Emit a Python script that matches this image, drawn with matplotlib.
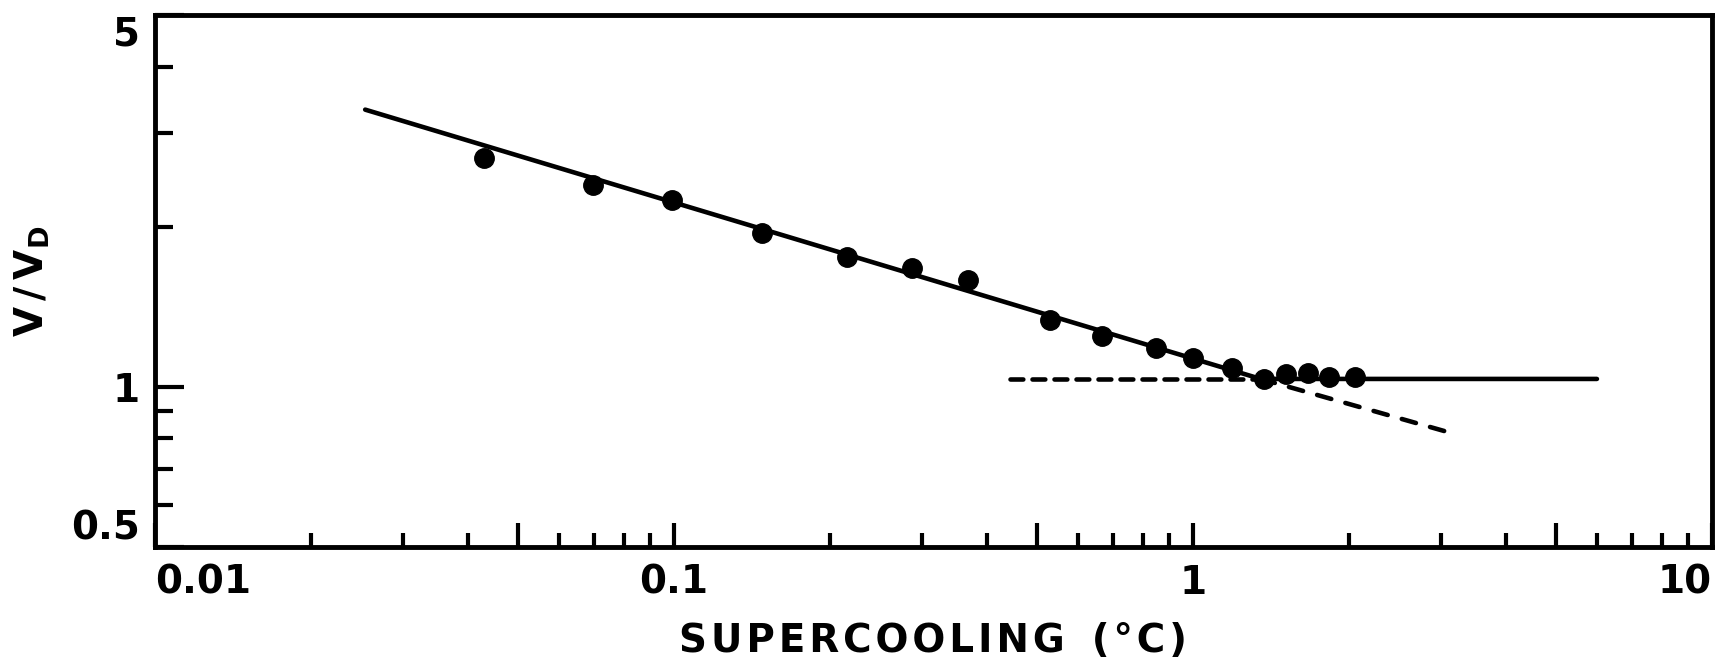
import matplotlib
matplotlib.use("Agg")
import matplotlib.pyplot as plt

plt.rcParams['font.family'] = ['DejaVu Sans']
plt.rcParams['font.weight'] = 'bold'
plt.rcParams['mathtext.fontset'] = 'dejavusans'

# measured points (supercooling in C, V/VD)
supercooling = [0.0431, 0.0699, 0.0990, 0.1476, 0.2152, 0.2875, 0.3685, 0.530, 0.667,
                0.849, 1.001, 1.187, 1.370, 1.509, 1.668, 1.831, 2.051]
v_ratio = [2.69, 2.40, 2.25, 1.95, 1.757, 1.67, 1.59, 1.336, 1.246,
           1.182, 1.132, 1.084, 1.033, 1.056, 1.063, 1.042, 1.042]

# fitted lines
fit_x = [0.0254, 1.35, 6.0]
fit_y = [3.32, 1.035, 1.035]
flat_dash_x = [0.443, 1.35]
flat_dash_y = [1.035, 1.035]
slope_dash_x = [1.35, 3.13]
slope_dash_y = [1.035, 0.82]

x_major = [0.01, 0.05, 0.1, 0.5, 1, 5, 10]
x_major_labels = ['0.01', '', '0.1', '', '1', '', '10']
x_minor = [0.02, 0.03, 0.04, 0.06, 0.07, 0.08, 0.09,
           0.2, 0.3, 0.4, 0.6, 0.7, 0.8, 0.9,
           2, 3, 4, 6, 7, 8, 9]
y_major = [0.5, 1, 5]
y_major_labels = ['0.5', '1', '5']
y_minor = [0.6, 0.7, 0.8, 0.9, 2, 3, 4]

fig = plt.figure(figsize=(17.25, 6.65), dpi=100)
ax = fig.add_axes([0.0899, 0.1774, 0.9026, 0.80])
ax.set_xscale('log')
ax.set_yscale('log')

ax.plot(fit_x, fit_y, color='black', lw=3.3, solid_capstyle='round', zorder=2)
ax.plot(flat_dash_x, flat_dash_y, color='black', lw=3.3, linestyle=(0, (2.8, 2.0)),
        dash_capstyle='round', zorder=2)
ax.plot(slope_dash_x, slope_dash_y, color='black', lw=3.3, linestyle=(0, (3.2, 3.2)),
        dash_capstyle='round', zorder=2)
ax.plot(supercooling, v_ratio, 'o', color='black', markersize=14, zorder=3)

ax.set_xlim(0.01, 10)
ax.set_ylim(0.5, 5)

ax.set_xticks(x_major)
ax.set_xticklabels(x_major_labels)
ax.set_xticks(x_minor, minor=True)
ax.set_xticklabels([], minor=True)
ax.set_yticks(y_major)
ax.set_yticklabels(y_major_labels)
ax.set_yticks(y_minor, minor=True)
ax.set_yticklabels([], minor=True)

ax.tick_params(axis='x', which='major', direction='in', length=17, width=3, pad=12, labelsize=28)
ax.tick_params(axis='x', which='minor', direction='in', length=10, width=3)
ax.tick_params(axis='y', which='major', direction='in', length=21, width=3, pad=11, labelsize=28)
ax.tick_params(axis='y', which='minor', direction='in', length=13, width=3)
ax.tick_params(which='both', top=False, right=False)

xl = ax.get_xticklabels()
xl[0].set_ha('left')
xl[-1].set_ha('right')
yl = ax.get_yticklabels()
yl[0].set_va('bottom')
yl[-1].set_va('top')

for s in ax.spines.values():
    s.set_linewidth(3.5)

# wide letter spacing like the original lettering
xlabel = '\u200a'.join('SUPERCOOLING') + '  ' + '\u200a'.join('(°C)')
fig.text(0.541, 0.036, xlabel, ha='center', va='center', fontsize=28, fontweight='bold')
fig.text(0.019, 0.577, r'$\mathbf{V\,/\,V_D}$', ha='center', va='center', fontsize=28,
         rotation=90)

fig.savefig('out.png', dpi=100)
